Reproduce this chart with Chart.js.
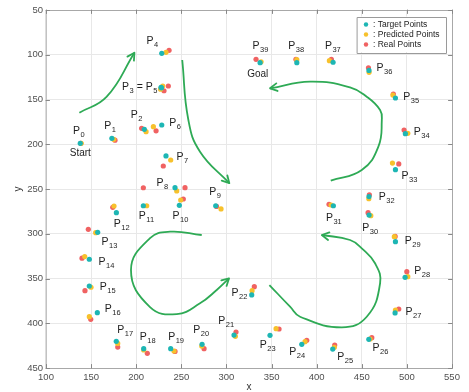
<!DOCTYPE html>
<html><head><meta charset="utf-8">
<script src="https://cdn.jsdelivr.net/npm/chart.js@4/dist/chart.umd.min.js"></script>
<style>html,body{margin:0;padding:0;background:#fff}#wrap{width:469px;height:392px}</style>
</head><body><div id="wrap"><canvas id="c" width="469" height="392"></canvas></div>
<script>
const xTicks=[100,150,200,250,300,350,400,450,500,550];
const yTicks=[50,100,150,200,250,300,350,400,450];
const targetPts=[[138,199],[173,193.4],[209,183.3],[227.5,136.4],[228.3,98.4],[228,137],[228.3,178.5],[233,213.1],[243,248.5],[288.1,268.7],[247.8,268.2],[207.9,268.7],[178,276.5],[157.3,298.4],[148,328.5],[148,358.4],[156.9,388.2],[177.9,420.2],[208.3,428.4],[238.2,428.4],[273,423.6],[308.4,413.2],[328,368.4],[348.3,413.5],[383.5,423.6],[417.8,428.8],[457.8,418],[486.9,388.5],[498,348.7],[487.3,308.9],[458.1,279.1],[418.5,268.7],[458,258.5],[487.3,228.4],[498.3,188.2],[487.3,148.3],[458,117.5],[418.2,108.4],[378,108.9],[337.3,108.9]];
const predictedPts=[[139,199],[175,194.5],[210.9,186],[229.4,134.9],[233,97.3],[227,138.5],[219,180.4],[238.2,217.6],[244.9,252.2],[294,272.3],[249.3,262.3],[211.6,268.7],[175.4,269],[155.1,298.8],[142.9,325.5],[149.9,359.8],[148,392.7],[179.5,422.5],[208.3,429.9],[241.9,431],[272.6,425.5],[309.9,414.6],[328.4,363.6],[355,406.1],[387.1,420.6],[419.6,426.9],[459.2,417.6],[487.3,385.2],[501,348],[486.1,303.3],[460,279.8],[416,267.9],[457.8,260.8],[484,221],[501,187.8],[484.5,145],[458.1,119.6],[414.1,106.6],[378,105.5],[338.4,107.8]];
const realPts=[[138.5,199],[176.5,195.4],[206,182.2],[235.6,134.9],[236.4,95],[230.8,140.2],[222,185],[230,224.3],[254.1,248.5],[289,269.5],[252.2,261.2],[207.9,248.6],[174,270.5],[146.9,295],[139.9,327.3],[143.2,363.6],[149.6,395.6],[179.5,426.6],[212.3,433.6],[243,431.5],[275.2,428.4],[310.6,409.8],[330.9,359.1],[358.3,406.4],[389,419.1],[420,424.3],[461.1,416.1],[491,384.1],[499.9,342.4],[487,303],[457,276.5],[413.7,267.1],[458.4,256.4],[491,222],[496.9,184.1],[485,143.9],[457.4,114.5],[416.3,105.1],[377,105],[332.8,105.1]];
// label anchors (data coords) for P_i; index 3 holds the combined "P3 = P5" label, 5 is null
const labelPos=[[133.8,185.2],[168.4,179.6],[197.9,167.3],[184.3,136.4],[215.3,84.3],null,[240.5,176.6],[248.6,213.9],[226.4,243],[284.8,253.3],[244.1,279.8],[206.8,280.2],[179,289.1],[165.4,309.5],[162.1,331.2],[163.5,359.2],[169.1,384.4],[182.8,407.5],[207.9,415.7],[239.3,415],[267.1,407.5],[294.8,397.5],[309.5,365.9],[340.9,424.3],[373.5,432.4],[426.7,437.4],[465.8,428],[502.4,387.8],[512.1,341.3],[501.6,307.8],[454.4,293.9],[414.1,282.7],[472.8,258.6],[498,235.5],[511.6,186],[499.9,147.5],[470.3,114.5],[413,90.2],[372.4,90.2],[332.8,90.2]];
const extraText=[{t:'Start',x:138,y:210.1},{t:'Goal',x:334.7,y:121.5}];
const arrow1=[[137,164.7],[167.3,146.9],[198,97.7]];
const arrow2=[[251,105.9],[257.8,172.9],[270.7,208.3],[303.2,243.5]];
const arrow3=[[272.6,301.4],[237.5,297.7],[215.3,305],[194.2,340.5],[215.3,381.9],[244.9,389.7],[270.7,377.7],[289.2,362.8],[302.9,349.8]];
const arrow4=[[347.6,357.3],[370.5,381.5],[381.6,392.7],[427.8,404.5],[455.5,392.7],[470.3,355.3],[464.7,333],[450,316.3],[437,307],[405.7,301.4]];
const arrow5=[[415.6,240.7],[450,228.8],[468.4,202.7],[472.2,172.9],[470.3,161.7],[455.5,146.9],[437,136.4],[392.7,130.1],[348.3,137.5]];
const seriesNames=['Target Points','Predicted Points','Real Points'];
const seriesColors=['#1db6b4','#f7c12c','#f06262'];
const GREEN='#2eaa55';

const toXY=a=>a.map(p=>({x:p[0],y:p[1]}));
const arrows=[arrow1,arrow2,arrow3,arrow4,arrow5];
const datasets=[
 {label:seriesNames[0],data:toXY(targetPts),backgroundColor:seriesColors[0],pointRadius:2.6,borderWidth:0,pointHoverRadius:2.6},
 {label:seriesNames[1],data:toXY(predictedPts),backgroundColor:seriesColors[1],pointRadius:2.6,borderWidth:0,pointHoverRadius:2.6},
 {label:seriesNames[2],data:toXY(realPts),backgroundColor:seriesColors[2],pointRadius:2.6,borderWidth:0,pointHoverRadius:2.6}
];
arrows.forEach((a,i)=>datasets.push({label:'arrow'+i,isArrow:true,data:toXY(a),showLine:true,tension:0.45,borderColor:GREEN,borderWidth:1.8,pointRadius:0,pointHoverRadius:0,fill:false}));

const FONT='"Liberation Sans", Arial, sans-serif';
const overlay={id:'overlay',
 afterDatasetsDraw(chart){
  const ctx=chart.ctx,xs=chart.scales.x,ys=chart.scales.y,ca=chart.chartArea;
  ctx.save();
  // arrowheads
  chart.data.datasets.forEach((ds,di)=>{
   if(!ds.isArrow)return;
   const meta=chart.getDatasetMeta(di);const pts=meta.data;const last=pts[pts.length-1];
   let px=last.cp1x,py=last.cp1y;
   if(px===undefined||(Math.abs(px-last.x)<0.5&&Math.abs(py-last.y)<0.5)){px=pts[pts.length-2].x;py=pts[pts.length-2].y;}
   const ang=Math.atan2(last.y-py,last.x-px);const L=8,w=0.5;
   ctx.strokeStyle=GREEN;ctx.lineWidth=1.8;ctx.lineCap='round';ctx.lineJoin='round';
   ctx.beginPath();
   ctx.moveTo(last.x-L*Math.cos(ang-w),last.y-L*Math.sin(ang-w));
   ctx.lineTo(last.x,last.y);
   ctx.lineTo(last.x-L*Math.cos(ang+w),last.y-L*Math.sin(ang+w));
   ctx.stroke();
  });
  // box + inner ticks
  ctx.strokeStyle='#a8a8a8';ctx.lineWidth=1;
  ctx.strokeRect(Math.round(ca.left)+0.5,Math.round(ca.top)+0.5,Math.round(ca.right-ca.left),Math.round(ca.bottom-ca.top));
  ctx.strokeStyle='#888';
  ctx.beginPath();
  xTicks.forEach(v=>{const X=Math.round(xs.getPixelForValue(v))+0.5;ctx.moveTo(X,ca.bottom);ctx.lineTo(X,ca.bottom-3.5);ctx.moveTo(X,ca.top);ctx.lineTo(X,ca.top+3.5);});
  yTicks.forEach(v=>{const Y=Math.round(ys.getPixelForValue(v))+0.5;ctx.moveTo(ca.left,Y);ctx.lineTo(ca.left+3.5,Y);ctx.moveTo(ca.right,Y);ctx.lineTo(ca.right-3.5,Y);});
  ctx.stroke();
  // point labels
  ctx.fillStyle='#1e1e1e';ctx.textBaseline='middle';
  const drawP=(x,y,sub)=>{ctx.font='10.5px '+FONT;ctx.textAlign='left';const w=ctx.measureText('P').width;ctx.fillText('P',x,y);ctx.font='7.5px '+FONT;ctx.fillText(sub,x+w+0.5,y+4);ctx.font='7.5px '+FONT;return x+w+0.5+ctx.measureText(sub).width;};
  labelPos.forEach((p,i)=>{
   if(!p)return;
   const X=xs.getPixelForValue(p[0]),Y=ys.getPixelForValue(p[1]);
   if(i===3){let e=drawP(X,Y,'3');ctx.font='10.5px '+FONT;ctx.fillText(' = ',e,Y);e+=ctx.measureText(' = ').width;drawP(e,Y,'5');return;}
   ctx.font='10.5px '+FONT;const w=ctx.measureText('P').width;
   drawP(X-w/2,Y,String(i));
  });
  ctx.font='10px '+FONT;ctx.textAlign='center';
  extraText.forEach(t=>ctx.fillText(t.t,xs.getPixelForValue(t.x),ys.getPixelForValue(t.y)));
  // axis titles
  ctx.fillStyle='#333';ctx.font='10px '+FONT;
  ctx.fillText('x',(ca.left+ca.right)/2,ca.bottom+19);
  ctx.save();ctx.translate(18,(ca.top+ca.bottom)/2);ctx.rotate(-Math.PI/2);ctx.fillText('y',0,0);ctx.restore();
  // legend
  const lx=ca.right-95,ly=ca.top+6.5,lw=88.5,lh=35.5;
  ctx.fillStyle='#fff';ctx.fillRect(lx,ly,lw,lh);
  ctx.strokeStyle='#9a9a9a';ctx.lineWidth=1;ctx.strokeRect(Math.round(lx)+0.5,Math.round(ly)+0.5,Math.round(lw),Math.round(lh));
  ctx.font='8.5px '+FONT;ctx.textAlign='left';
  seriesNames.forEach((n,i)=>{
   const yy=ly+8+i*10;
   ctx.fillStyle=seriesColors[i];ctx.beginPath();ctx.arc(lx+9,yy,2.2,0,Math.PI*2);ctx.fill();
   ctx.fillStyle='#222';ctx.fillText(': '+n,lx+16,yy);
  });
  ctx.restore();
 }};

new Chart(document.getElementById('c'),{
 type:'scatter',
 data:{datasets},
 options:{responsive:false,animation:false,devicePixelRatio:1,
  layout:{padding:{top:10,right:17,left:0,bottom:0}},
  plugins:{legend:{display:false},tooltip:{enabled:false}},
  scales:{
   x:{type:'linear',min:100,max:550,afterBuildTicks(s){s.ticks=xTicks.map(v=>({value:v}));},
      afterFit(s){s.height=24;},
      grid:{color:'#e8e8e8',drawTicks:false},border:{display:false},
      ticks:{padding:4,color:'#505050',font:{size:9.5,family:FONT},maxRotation:0}},
   y:{type:'linear',min:50,max:450,reverse:true,afterBuildTicks(s){s.ticks=yTicks.map(v=>({value:v}));},
      afterFit(s){s.width=46;},
      grid:{color:'#e8e8e8',drawTicks:false},border:{display:false},
      ticks:{padding:3,color:'#505050',font:{size:9.5,family:FONT}}}
  }
 },
 plugins:[overlay]
});
</script></body></html>
